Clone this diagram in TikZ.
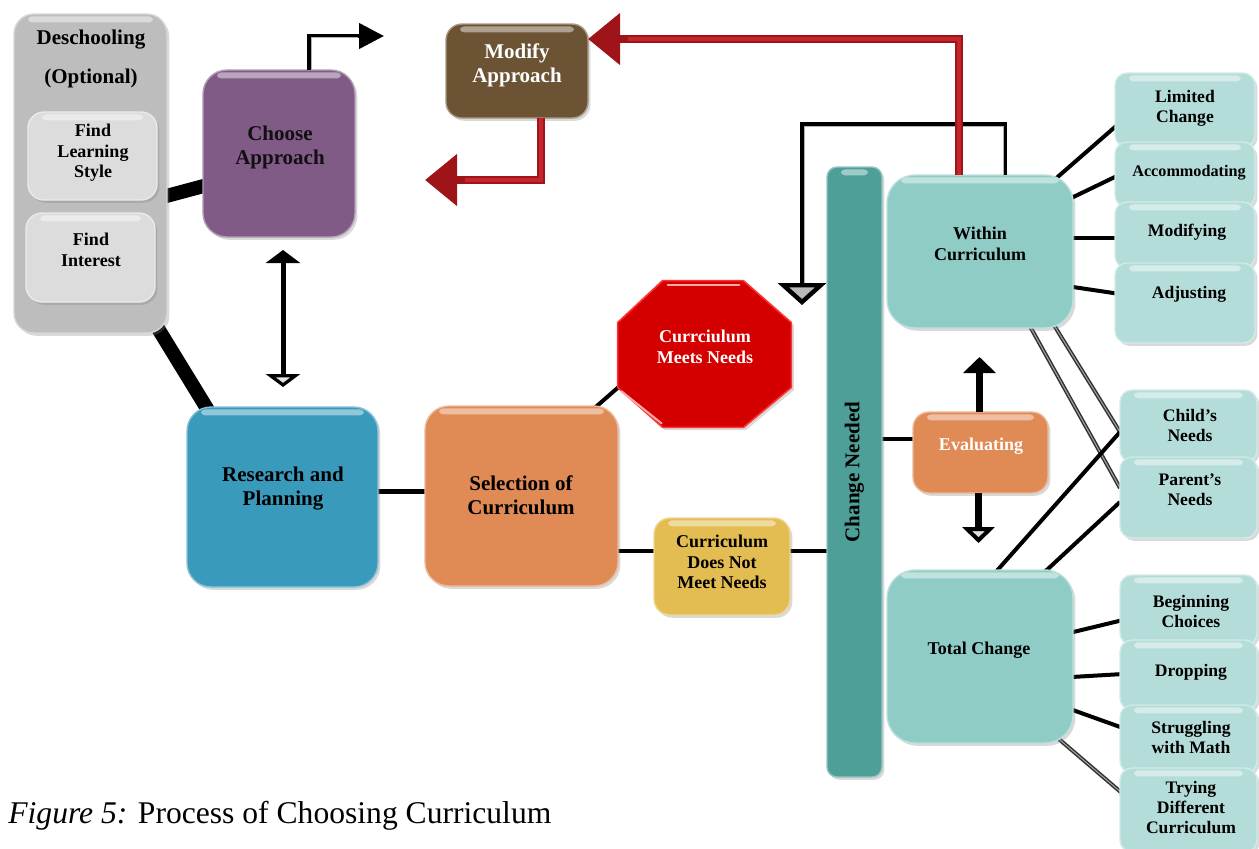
\documentclass[tikz,border=0pt]{standalone}
\usepackage{fontspec}
\setmainfont{Liberation Serif}
\usetikzlibrary{arrows.meta,fit,calc,backgrounds,shadows}

\definecolor{deschgray}{HTML}{BDBDBD}
\definecolor{innergray}{HTML}{DCDCDC}
\definecolor{purp}{HTML}{7F5B85}
\definecolor{brownbox}{HTML}{6B5333}
\definecolor{bluebox}{HTML}{3A9ABB}
\definecolor{orangebox}{HTML}{E08A55}
\definecolor{yellowbox}{HTML}{E3BC52}
\definecolor{stopred}{HTML}{D40000}
\definecolor{tealbar}{HTML}{4F9F99}
\definecolor{tealbox}{HTML}{8FCCC6}
\definecolor{lightteal}{HTML}{B4DDD9}
\definecolor{arrowred}{HTML}{9E1418}
\definecolor{arrowredmid}{HTML}{C4262B}

\tikzset{
  panel/.style={inner sep=0pt, outer sep=0pt, fill=#1, draw=#1!60!white, line width=0.7pt,
    drop shadow={opacity=0.3, shadow xshift=1.2pt, shadow yshift=-1.4pt},
    path picture={\fill[white, opacity=0.45, rounded corners=2pt]
      ([xshift=7pt,yshift=-1.2pt]path picture bounding box.north west) rectangle
      ([xshift=-7pt,yshift=-4.2pt]path picture bounding box.north east);}},
  lbl/.style={align=center, inner sep=0pt, text=black,
    font=\bfseries\fontsize{10.5}{12}\selectfont},
  lblsm/.style={lbl, font=\bfseries\fontsize{9}{10.2}\selectfont},
  lblxs/.style={lbl, font=\bfseries\fontsize{8.8}{10}\selectfont},
  link/.style={draw=black, line width=#1},
  greylink/.style={draw=black!80, line width=0.75pt, double=gray!70, double distance=0.5pt},
  blkarrow/.style={draw=black, line width=2.2pt, -{Triangle[length=12.5pt,width=12.5pt]}},
  backarrow/.style={draw=black, line width=2.2pt, -{Triangle[length=11pt,width=24pt,fill=gray!55]}},
  redarrow/.style={draw=arrowred, line width=4pt, -{Triangle[length=16pt,width=25pt]}},
  redcore/.style={draw=arrowredmid, line width=1.8pt},
  gloss/.style={line width=0.5pt}
}

\begin{document}
\begin{tikzpicture}[x=0.5pt,y=-0.5pt]
\useasboundingbox (0,0) rectangle (1259,848);

% ---------- left column ----------
\node[panel=deschgray, rounded corners=10pt, fit={(14,14) (167,333)}] (desch) {};
\node[lbl] (deschT) at (91,40) {Deschooling};
\node[lbl] (deschO) at (91,78) {(Optional)};
\node[panel=innergray, rounded corners=8pt, fit={(28,112) (157,200)}] (lstyle) {};
\node[lblsm] (lstyleT) at (93,153) {Find\\Learning\\Style};
\node[panel=innergray, rounded corners=8pt, fit={(26,213) (155,302)}] (interest) {};
\node[lblsm] (interestT) at (91,250) {Find\\Interest};

\node[panel=purp, rounded corners=12pt, fit={(203,70) (355,237)}] (choose) {};
\node[lbl, text=black!85!purp] (chooseT) at (280,147) {Choose\\Approach};

\node[panel=brownbox, rounded corners=8pt, fit={(446,24) (588,118)}] (modify) {};
\node[lbl, text=white] (modifyT) at (517,65) {Modify\\Approach};

\node[panel=bluebox, rounded corners=12pt, fit={(187,407) (378,587)}] (research) {};
\node[lbl] (researchT) at (283,489) {Research and\\Planning};

\node[panel=orangebox, rounded corners=12pt, fit={(425,406) (618,586)}] (select) {};
\node[lbl] (selectT) at (521,495) {Selection of\\Curriculum};

\node[panel=yellowbox, rounded corners=8pt, fit={(654,518) (790,615)}] (notmeet) {};
\node[lblsm] (notmeetT) at (722,562) {Curriculum\\Does Not\\Meet Needs};

% stop sign
\node[inner sep=0pt, fit={(618,281) (791,427)}] (meets) {};
\fill[stopred, draw=red!80!white, line width=0.8pt,
      drop shadow={opacity=0.3, shadow xshift=1.2pt, shadow yshift=-1.4pt}]
  ($(meets.north west)+(45,0)$) -- ($(meets.north east)+(-48,0)$)
  -- ($(meets.north east)+(0,42)$) -- ($(meets.south east)+(0,-40)$)
  -- ($(meets.south east)+(-48,0)$) -- ($(meets.south west)+(45,0)$)
  -- ($(meets.south west)+(0,-40)$) -- ($(meets.north west)+(0,42)$) -- cycle;
\draw[red!35!white, line width=1pt, line cap=round]
  ($(meets.north west)+(50,4)$) -- ($(meets.north east)+(-52,4)$);
\draw[red!35!white, line width=1pt, line cap=round]
  ($(meets.south west)+(4,-36)$) -- ($(meets.south west)+(44,-4)$);
\node[lblsm, text=white] (meetsT) at (705,347) {Currciulum\\Meets Needs};

% ---------- change column ----------
\node[panel=tealbar, rounded corners=5pt, fit={(827,167) (882,777)}] (change) {};
\node[lbl, rotate=90] (changeT) at (change.center) {Change Needed};

\node[panel=tealbox, rounded corners=14pt, fit={(887,175) (1073,328)}] (within) {};
\node[lblsm] (withinT) at (980,244) {Within\\Curriculum};

\node[panel=orangebox, rounded corners=8pt, fit={(913,412) (1048,493)}] (eval) {};
\node[lblsm, text=white] (evalT) at (981,446) {Evaluating};

\node[panel=tealbox, rounded corners=14pt, fit={(887,570) (1073,743)}] (total) {};
\node[lblsm] (totalT) at (979,650) {Total Change};

% ---------- right stacks ----------
\node[panel=lightteal, rounded corners=6pt, fit={(1115,73) (1255,147)}] (limited) {};
\node[panel=lightteal, rounded corners=6pt, fit={(1115,142) (1255,207)}] (accom) {};
\node[panel=lightteal, rounded corners=6pt, fit={(1115,202) (1255,268)}] (modif) {};
\node[panel=lightteal, rounded corners=6pt, fit={(1115,263) (1255,343)}] (adjust) {};
\node[lblxs] (limitedT) at (1185,108) {Limited\\Change};
\node[lblxs, font=\bfseries\fontsize{8.1}{10}\selectfont] (accomT) at (1189,173) {Accommodating};
\node[lblxs] (modifT) at (1187,232) {Modifying};
\node[lblxs] (adjustT) at (1189,294) {Adjusting};

\node[panel=lightteal, rounded corners=6pt, fit={(1120,390) (1257,462)}] (child) {};
\node[panel=lightteal, rounded corners=6pt, fit={(1120,457) (1257,538)}] (parent) {};
\node[lblxs] (childT) at (1190,425) {Child’s\\Needs};
\node[lblxs] (parentT) at (1190,490) {Parent’s\\Needs};

\node[panel=lightteal, rounded corners=6pt, fit={(1120,575) (1257,645)}] (begin) {};
\node[panel=lightteal, rounded corners=6pt, fit={(1120,640) (1257,710)}] (drop) {};
\node[panel=lightteal, rounded corners=6pt, fit={(1120,705) (1257,773)}] (strug) {};
\node[panel=lightteal, rounded corners=6pt, fit={(1120,768) (1257,852)}] (trying) {};
\node[lblxs] (beginT) at (1191,611) {Beginning\\Choices};
\node[lblxs] (dropT) at (1191,672) {Dropping};
\node[lblxs] (strugT) at (1191,737) {Struggling\\with Math};
\node[lblxs] (tryingT) at (1191,807) {Trying\\Different\\Curriculum};

% ---------- plain connectors behind the boxes ----------
\begin{scope}[on background layer]
  \draw[link=7pt] ($(desch.east)+(-10,25)$) -- ($(choose.west)+(10,30)$);
  \draw[link=7pt] ($(desch.south east)+(-16,-16)$) -- ($(research.north west)+(24,8)$);
  \draw[link=2.5pt] ($(research.east)+(-5,-6)$) -- ($(select.west)+(5,-5)$);
  \draw[link=2pt] ($(select.north east)+(-28,6)$) -- ($(meets.south west)+(12,-50)$);
  \draw[link=1.6pt] ($(select.east)+(-5,55)$) -- ($(notmeet.west)+(5,-15.5)$);
  \draw[link=1.6pt] ($(notmeet.east)+(-5,-15.5)$) -- ($(change.west)+(5,79)$);
  \draw[link=1.6pt] ($(change.east)+(-5,-33)$) -- ($(eval.west)+(5,-13.5)$);
  % within curriculum branches
  \draw[link=2pt] ($(within.north east)+(-20,6)$) -- ($(limited.west)+(5,12.6)$);
  \draw[link=2pt] ($(within.east)+(-10,-49.5)$) -- ($(accom.west)+(5,0)$);
  \draw[link=2pt] ($(within.east)+(-10,-13.5)$) -- ($(modif.west)+(5,3)$);
  \draw[link=2pt] ($(within.east)+(-10,34)$) -- ($(adjust.west)+(5,-9)$);
  % needs crossing
  \draw[greylink] ($(within.south)+(47,-7)$) -- ($(parent.west)+(0,-9.5)$);
  \draw[greylink] ($(within.south)+(72,-6)$) -- ($(child.west)+(0,6)$);
  \draw[link=2pt] ($(total.north)+(14,4)$) -- ($(child.west)+(0,6)$);
  \draw[link=2pt] ($(total.north)+(63,3.5)$) -- ($(parent.west)+(0,4.5)$);
  % total change branches
  \draw[link=2pt] ($(total.east)+(-10,-22)$) -- ($(begin.west)+(3,10)$);
  \draw[link=2pt] ($(total.east)+(-10,21)$) -- ($(drop.west)+(3,-1)$);
  \draw[link=2pt] ($(total.east)+(-10,50)$) -- ($(strug.west)+(3,-11)$);
  \draw[greylink] ($(total.south east)+(-20,-9)$) -- ($(trying.west)+(3,-16)$);
\end{scope}

% ---------- arrows ----------
\coordinate (chooseOut) at (384,36);
\draw[blkarrow] ($(choose.north)+(30,0)$) |- (chooseOut);
\draw[gray!60, gloss, shorten >=13pt] ($(choose.north)+(32,0)$) |- ($(chooseOut)+(0,1)$);

\draw[draw=black, line width=2.5pt,
  {Triangle[length=6.5pt,width=17pt]}-{Triangle[length=6.5pt,width=17pt,fill=gray!20]}]
  ($(choose.south)+(4,13)$) -- ($(research.north)+(0.5,-20)$);

\coordinate (backIn) at (802,305);
\draw[backarrow] ($(within.north)+(25,0)$) -- ++(0,-51) -| (backIn);
\draw[gray!60, gloss, shorten >=11pt] ($(within.north)+(23,0)$) -- ++(0,-49) -| ($(backIn)+(2,0)$);

\draw[redarrow] ($(within.north)+(-21,0)$) |- ($(modify.east)+(0,-32)$);
\draw[redcore, shorten >=20pt] ($(within.north)+(-21,0)$) |- ($(modify.east)+(0,-32)$);

\coordinate (redOut) at (425,180);
\draw[redarrow] ($(modify.south)+(24,0)$) |- (redOut);
\draw[redcore, shorten >=20pt] ($(modify.south)+(24,0)$) |- (redOut);

\coordinate (evalUp) at ($(eval.north)+(-1,-55)$);
\coordinate (evalDown) at ($(eval.south)+(-2,50)$);
\draw[draw=black, line width=3.5pt, -{Triangle[length=8pt,width=16pt]}] ($(eval.north)+(-1,0)$) -- (evalUp);
\draw[draw=black, line width=3.5pt, -{Triangle[length=8pt,width=16pt,fill=gray!25]}] ($(eval.south)+(-2,0)$) -- (evalDown);

% ---------- caption ----------
\node[anchor=base west, inner sep=0pt, font=\fontsize{15.8}{18}\selectfont] (caption) at (8,823)
  {\textit{Figure 5:} Process of Choosing Curriculum};
\end{tikzpicture}
\end{document}
